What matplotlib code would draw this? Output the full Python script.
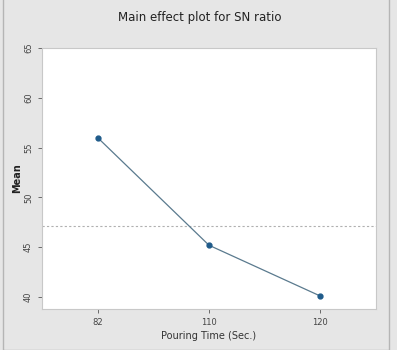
import matplotlib
matplotlib.use("Agg")
import matplotlib.pyplot as plt
from matplotlib.patches import Rectangle

categories = ["82", "110", "120"]
means = [56.0, 45.2, 40.1]
overall_mean = 47.1
y_ticks = [40, 45, 50, 55, 60, 65]

W, H = 397, 350
fig = plt.figure(figsize=(W/100, H/100), dpi=100, facecolor="#e6e6e6")
ax = fig.add_axes([42/W, 1-309/H, (376-42)/W, (309-48)/H])
ax.set_facecolor("white")

x = list(range(len(categories)))
ax.plot(x, means, color="#5a7a8e", lw=0.9, marker="o", ms=3.5,
        mfc="#1f5b8a", mec="#1f5b8a", zorder=3)
ax.axhline(overall_mean, color="#b0b0b0", lw=0.8, ls=(0, (2, 2)), zorder=2)

ax.set_xlim(-0.5, 2.5)
ax.set_ylim(38.8, 65)
ax.set_xticks(x)
ax.set_xticklabels(categories)
ax.set_yticks(y_ticks)
ax.set_yticklabels([str(v) for v in y_ticks], rotation=90, va="center")
ax.tick_params(labelsize=6, colors="#555555", length=3, width=0.6)
ax.tick_params(axis="x", labelcolor="#444444")
ax.tick_params(axis="y", labelcolor="#444444")
for s in ax.spines.values():
    s.set_color("#c8c8c8")
    s.set_linewidth(0.8)

ax.set_xlabel("Pouring Time (Sec.)", fontsize=7, color="#333333", labelpad=3)
ax.set_ylabel("Mean", fontsize=7, fontweight="bold", color="#222222", labelpad=1)
fig.text(200/W, 1-17/H, "Main effect plot for SN ratio", ha="center", va="center",
         fontsize=8.5, color="#222222")

# outer frame lines
fig.patches.append(Rectangle((3/W, 0), (389-3)/W, 1.2, transform=fig.transFigure,
                             fill=False, edgecolor="#b5b5b5", lw=1.0))

fig.savefig("out.png", dpi=100, facecolor=fig.get_facecolor())
